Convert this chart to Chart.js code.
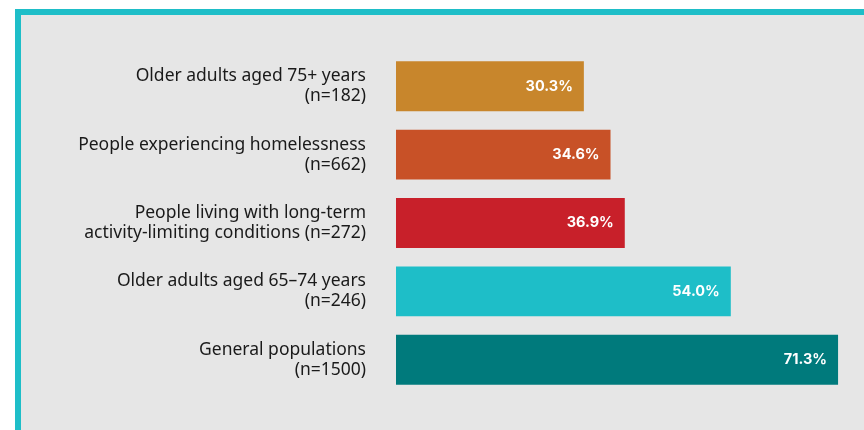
<!DOCTYPE html>
<html>
<head>
<meta charset="utf-8">
<script src="https://cdn.jsdelivr.net/npm/chart.js@4"></script>
<style>
  html, body { margin: 0; padding: 0; background: #ffffff; }
  .wrap { position: relative; width: 864px; height: 430px; overflow: hidden; }
  .panel {
    position: absolute; left: 15px; top: 9px; right: -10px; bottom: -10px;
    background: #e6e6e6;
    border-left: 6px solid #1ebec8;
    border-top: 6px solid #1ebec8;
  }
  canvas { position: absolute; left: 0; top: 0; }
</style>
</head>
<body>
<div class="wrap">
  <div class="panel"></div>
  <canvas id="chart" width="864" height="430"></canvas>
</div>
<script>
// Share of each group (%), with group labels split over two lines
const groupLabels = [
  ["Older adults aged 75+ years", "(n=182)"],
  ["People experiencing homelessness", "(n=662)"],
  ["People living with long-term", "activity-limiting conditions (n=272)"],
  ["Older adults aged 65\u201374 years", "(n=246)"],
  ["General populations", "(n=1500)"]
];
const shareValues = [30.3, 34.6, 36.9, 54.0, 71.3];
const barColours = ["#c8862c", "#c85127", "#c8202a", "#1ebec8", "#007a7c"];

// Writes each value as a percentage just inside the end of its bar
const valueLabels = {
  id: "valueLabels",
  afterDatasetsDraw(chart) {
    const ctx = chart.ctx;
    const meta = chart.getDatasetMeta(0);
    ctx.save();
    ctx.font = "bold 14.5px Inter, 'Open Sans', sans-serif";
    ctx.fillStyle = "#ffffff";
    ctx.textAlign = "right";
    ctx.textBaseline = "middle";
    meta.data.forEach((bar, i) => {
      ctx.fillText(shareValues[i].toFixed(1) + "%", bar.x - 11, bar.y);
    });
    ctx.restore();
  }
};

new Chart(document.getElementById("chart"), {
  type: "bar",
  data: {
    labels: groupLabels,
    datasets: [{
      data: shareValues,
      backgroundColor: barColours,
      borderWidth: 0,
      barPercentage: 0.73,
      categoryPercentage: 1.0
    }]
  },
  options: {
    indexAxis: "y",
    responsive: false,
    animation: false,
    layout: { padding: { top: 52, bottom: 36, left: 0, right: 3 } },
    plugins: {
      legend: { display: false },
      tooltip: { enabled: false }
    },
    scales: {
      x: {
        display: false,
        min: 0,
        max: 75
      },
      y: {
        afterFit(axis) {
          axis.width = 396;
          axis.paddingTop = 0;
          axis.paddingBottom = 0;
        },
        grid: { display: false },
        border: { display: false },
        ticks: {
          padding: 22,
          color: "#1a1a1a",
          font: { family: "'Noto Sans', sans-serif", size: 17.5, lineHeight: 1.14 }
        }
      }
    }
  },
  plugins: [valueLabels]
});
</script>
</body>
</html>
